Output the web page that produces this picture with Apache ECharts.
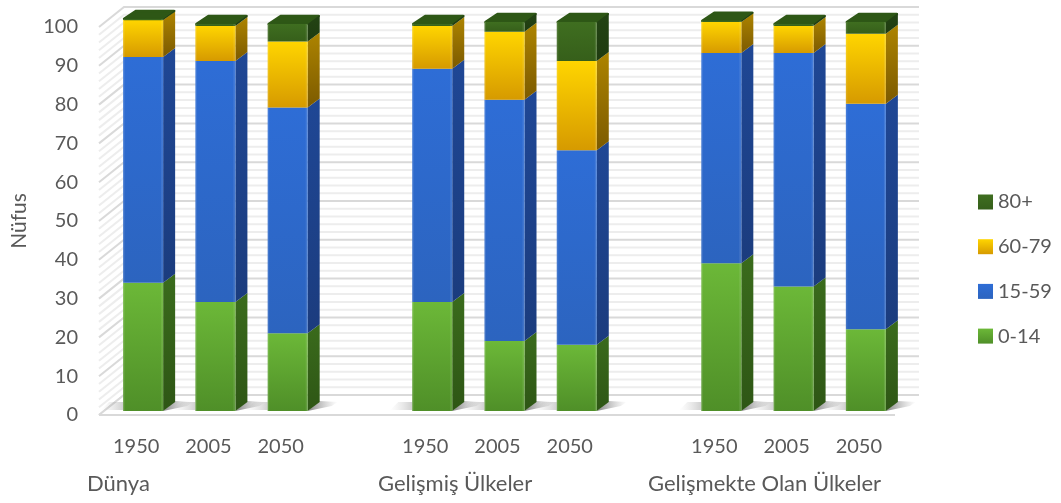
<!DOCTYPE html>
<html><head><meta charset="utf-8">
<style>html,body{margin:0;padding:0;background:#fff}#c{width:1061px;height:503px}</style>
<script src="https://cdn.jsdelivr.net/npm/echarts@6/dist/echarts.min.js"></script>
</head><body><div id="c"></div>
<script>
const years = ['1950','2005','2050','','1950','2005','2050','','1950','2005','2050'];
const groupNames = ['Dünya','Gelişmiş Ülkeler','Gelişmekte Olan Ülkeler'];
const age0to14 = [33,28,20,null,28,18,17,null,38,32,21];
const age15to59 = [58,62,58,null,60,62,50,null,54,60,58];
const age60to79 = [9.5,9,17,null,11,17.5,23,null,8,7,18];
const age80plus = [0.3,0.5,4.5,null,0.5,2.5,10,null,0.3,0.5,3];
const yTicks = [0,2,4,6,8,10,12,14,16,18,20,22,24,26,28,30,32,34,36,38,40,42,44,46,48,50,52,54,56,58,60,62,64,66,68,70,72,74,76,78,80,82,84,86,88,90,92,94,96,98,100];

const stacks = [
  {name:'0-14', values:age0to14, top:'#6CB838', bottom:'#4F8F28', sideTop:'#3A6B1C', sideBottom:'#2E5615', cap:'#2F5A17'},
  {name:'15-59', values:age15to59, top:'#2E6DD6', bottom:'#2C64BF', sideTop:'#1F4795', sideBottom:'#1B3C7E', cap:'#2E6DD6'},
  {name:'60-79', values:age60to79, top:'#FFD500', bottom:'#D69A00', sideTop:'#AD8400', sideBottom:'#7C5A00', cap:'#B58D00'},
  {name:'80+', values:age80plus, top:'#3F6E20', bottom:'#365F1A', sideTop:'#234414', sideBottom:'#1F3B10', cap:'#2E5716'}
];
const grad = (a,b) => new echarts.graphic.LinearGradient(0,0,0,1,[{offset:0,color:a},{offset:1,color:b}]);

// 3D projection offsets (px)
const shiftX = 7, shiftY = -4, depthX = 12, depthY = -9, barW = 40, barScale = 1.0026;
const wallDX = 25, wallDY = -20, wallRight = 919, floorRight = 895, bandW = 72.27;

function renderWall(params, api){
  const v = api.value(0);
  const p = api.coord([0, v]);
  const left = p[0] - bandW/2 - 1;
  const major = v % 10 === 0;
  const stroke = {stroke: major ? '#D9D9D9' : '#EDEDED', lineWidth: major ? 2 : 2, fill:null};
  return {type:'polyline', silent:true, shape:{points:[[left,p[1]],[left+wallDX,p[1]+wallDY],[wallRight,p[1]+wallDY]]}, style:stroke};
}
function renderFloor(params, api){
  const p = api.coord([0,0]);
  const left = p[0]-bandW/2-1;
  return {type:'group', silent:true, children:[
    {type:'polygon', shape:{points:[[left,p[1]],[left+wallDX,p[1]+wallDY],[wallRight,p[1]+wallDY],[floorRight,p[1]]]}, style:{fill:'#FFFFFF'}},
    {type:'line', shape:{x1:left+wallDX,y1:p[1]+wallDY,x2:wallRight,y2:p[1]+wallDY}, style:{stroke:'#D9D9D9',lineWidth:2}},
    {type:'line', shape:{x1:left,y1:p[1],x2:left+wallDX,y2:p[1]+wallDY}, style:{stroke:'#D9D9D9',lineWidth:2}},
    {type:'line', shape:{x1:left,y1:p[1],x2:floorRight,y2:p[1]}, style:{stroke:'#D9D9D9',lineWidth:2}}
  ]};
}
function renderShadow(params, api){
  const p = api.coord([api.value(0),0]);
  const x = p[0]+shiftX-barW/2, y = p[1]+shiftY;
  const fade = new echarts.graphic.LinearGradient(0,0,1,0,[{offset:0,color:'rgba(90,90,90,0.75)'},{offset:1,color:'rgba(150,150,150,0)'}]);
  return {type:'group', silent:true, children:[
    {type:'polygon', shape:{points:[[x+barW,y],[x+barW+24,y-5],[x+barW+30,y-9],[x+barW+depthX,y-10]]}, style:{fill:fade}},
    {type:'polygon', shape:{points:[[x-22,y-1],[x,y-1],[x,y-9],[x-14,y-9]]},
      style:{fill:new echarts.graphic.LinearGradient(0,0,1,0,[{offset:0,color:'rgba(170,170,170,0)'},{offset:1,color:'rgba(120,120,120,0.35)'}])}}
  ]};
}
function barRenderer(stackIndex){
  const s = stacks[stackIndex];
  return function(params, api){
    const i = api.value(0);
    if (stacks[0].values[i] == null) return null;
    let base = 0;
    for (let k=0;k<stackIndex;k++) base += stacks[k].values[i];
    const top = base + s.values[i];
    const p0 = api.coord([i,0]), pb = api.coord([i,base]), pt = api.coord([i,top]);
    const x0 = pb[0]+shiftX-barW/2, x1 = x0+barW;
    const yb = p0[1]-(p0[1]-pb[1])*barScale+shiftY, yt = p0[1]-(p0[1]-pt[1])*barScale+shiftY;
    const children = [];
    if (stackIndex === stacks.length-1){
      children.push({type:'polygon', shape:{points:[[x0+1,yt],[x1-1,yt],[x1+depthX-1,yt+depthY+1],[x0+depthX+1,yt+depthY+1]]},
        style:{fill:s.cap, lineJoin:'round', stroke:s.cap, lineWidth:2.5}});
    }
    children.push(
      {type:'polygon', shape:{points:[[x1,yb],[x1+depthX,yb+depthY],[x1+depthX,yt+depthY],[x1,yt]]}, style:{fill:grad(s.sideTop,s.sideBottom)}},
      {type:'rect', shape:{x:x0,y:yt,width:barW,height:yb-yt}, style:{fill:grad(s.top,s.bottom)}},
      {type:'rect', shape:{x:x0,y:yt,width:1.5,height:yb-yt}, style:{fill:'rgba(255,255,255,0.10)'}},
      {type:'rect', shape:{x:x1-2,y:yt,width:2,height:yb-yt}, style:{fill:'rgba(255,255,255,0.10)'}}
    );
    return {type:'group', children};
  };
}
const catIdx = years.map((_,i)=>i);
const textColor = '#595959', font = 'Lato';
const chart = echarts.init(document.getElementById('c'));
chart.setOption({
  animation:false,
  backgroundColor:'#fff',
  textStyle:{fontFamily:font},
  grid:{left:100,width:795,top:27,height:388,containLabel:false},
  xAxis:{type:'category',data:years,axisLine:{show:false},axisTick:{show:false},splitLine:{show:false},
    axisLabel:{color:textColor,fontSize:20,fontFamily:font,margin:22,interval:0}},
  yAxis:{type:'value',min:0,max:100,interval:10,name:'Nüfus',nameLocation:'middle',nameGap:70,nameRotate:90,
    nameTextStyle:{color:textColor,fontSize:21,fontFamily:font},
    axisLine:{show:false},axisTick:{show:false},splitLine:{show:false},
    axisLabel:{color:textColor,fontSize:20,fontFamily:font,margin:22,padding:[0,0,3,0]}},
  legend:{orient:'vertical',left:973,top:187,itemGap:24.7,itemWidth:15,itemHeight:15,icon:'rect',
    data:['80+','60-79','15-59','0-14'],
    textStyle:{color:textColor,fontSize:20,fontFamily:font},selectedMode:false},
  series:[
    {type:'custom',name:'walls',silent:true,z:1,data:yTicks.map(v=>[v]),encode:{y:0},renderItem:renderWall,tooltip:{show:false}},
    {type:'custom',name:'floor',silent:true,z:1,data:[[0]],renderItem:renderFloor,encode:{y:0}},
    {type:'custom',name:'shadow',silent:true,z:2,data:catIdx.filter(i=>age0to14[i]!=null).map(i=>[i]),encode:{x:0},renderItem:renderShadow},
    ...stacks.map((s,k)=>({
      type:'custom',name:s.name,z:3+k,
      data:catIdx.map((i)=>[i,s.values[i]]),encode:{x:0,y:1},
      itemStyle:{color:grad(s.top,s.bottom)},
      renderItem:barRenderer(k)
    }))
  ],
  graphic:groupNames.map((t,i)=>({type:'text',left:[87,378,648][i],top:473,silent:true,
    style:{text:t,fontSize:22,fontFamily:font,fill:textColor}}))
});
</script></body></html>
